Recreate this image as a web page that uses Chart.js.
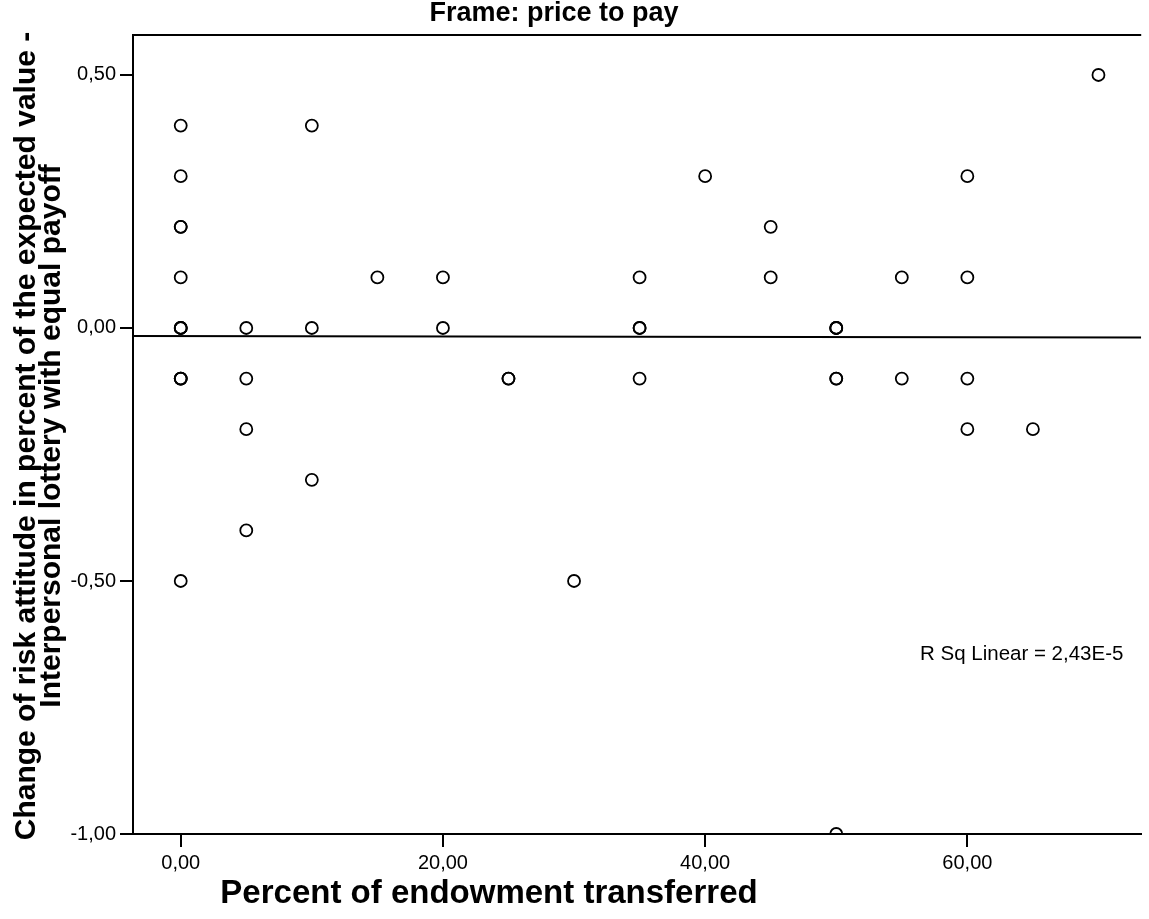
<!DOCTYPE html>
<html>
<head>
<meta charset="utf-8">
<script src="https://cdn.jsdelivr.net/npm/chart.js@4/dist/chart.umd.min.js"></script>
<style>
html,body{margin:0;padding:0;background:#fff;}
canvas{display:block;}
</style>
</head>
<body>
<canvas id="c" width="1149" height="919"></canvas>
<script>
// ---- data ----
const transferX = [0,0,0,0,0,0,0,0,0,0,0,0, 5,5,5,5, 10,10,10, 15, 20,20, 25,25, 30, 35,35,35,35, 40, 45,45, 50,50,50,50,50,50, 55,55, 60,60,60,60, 65, 70];
const riskY     = [0.4,0.3,0.2,0.2,0.1,0,0,0,-0.1,-0.1,-0.1,-0.5,
                   0,-0.1,-0.2,-0.4, 0.4,0,-0.3, 0.1, 0.1,0, -0.1,-0.1, -0.5, 0.1,0,0,-0.1, 0.3, 0.2,0.1, 0,0,0,-0.1,-0.1,-1.0, 0.1,-0.1, 0.3,0.1,-0.1,-0.2, -0.2, 0.5];
const fitX = [-3.64, 73.26];
const fitY = [-0.016, -0.019];
const xTicks = [0, 20, 40, 60];
const yTicks = [-1, -0.5, 0, 0.5];
const xRange = [-3.64, 73.26];
const yRange = [-1.0, 0.579];
const chartTitle = 'Frame: price to pay';
const xTitle = 'Percent of endowment transferred';
const yTitle = ['Change of risk attitude in percent of the expected value -', 'Interpersonal lottery with equal payoff'];
const rsqText = 'R Sq Linear = 2,43E-5';

const fmt = v => v.toFixed(2).replace('.', ',');
const FONT = '"Liberation Sans", Arial, sans-serif';

const textPlugin = {
  id: 'texts',
  afterDraw(chart) {
    const ctx = chart.ctx, a = chart.chartArea;
    ctx.save();
    ctx.strokeStyle = '#000';
    ctx.lineWidth = 2;
    ctx.beginPath();
    ctx.moveTo(a.left, a.top); ctx.lineTo(a.right, a.top);
    ctx.stroke();
    ctx.fillStyle = '#000';
    ctx.textBaseline = 'alphabetic';
    ctx.textAlign = 'center';
    ctx.font = 'bold 27px ' + FONT;
    ctx.fillText(chartTitle, 554, 21);
    ctx.font = 'bold 33px ' + FONT;
    ctx.fillText(xTitle, 489, 903);
    ctx.save();
    ctx.translate(0, 436);
    ctx.rotate(-Math.PI / 2);
    ctx.font = 'bold 30px ' + FONT;
    ctx.fillText(yTitle[0], 0, 35);
    ctx.fillText(yTitle[1], 0, 60);
    ctx.restore();
    ctx.font = '20.5px ' + FONT;
    ctx.textAlign = 'left';
    ctx.fillText(rsqText, 920, 660);
    ctx.restore();
  }
};

new Chart(document.getElementById('c'), {
  type: 'scatter',
  data: {
    datasets: [
      {
        data: transferX.map((x, i) => ({x, y: riskY[i]})),
        pointStyle: 'circle',
        pointRadius: 6,
        pointBorderWidth: 1.8,
        borderColor: '#000',
        backgroundColor: 'rgba(0,0,0,0)',
        pointHoverRadius: 6
      },
      {
        type: 'line',
        data: fitX.map((x, i) => ({x, y: fitY[i]})),
        borderColor: '#000',
        borderWidth: 2,
        pointRadius: 0,
        fill: false
      }
    ]
  },
  options: {
    responsive: false,
    animation: false,
    events: [],
    layout: { padding: { top: 35, right: 0, left: 0, bottom: 0 } },
    plugins: { legend: { display: false }, tooltip: { enabled: false }, title: { display: false } },
    scales: {
      x: {
        type: 'linear',
        min: xRange[0], max: xRange[1],
        afterBuildTicks: s => { s.ticks = xTicks.map(v => ({value: v})); },
        afterFit: s => { s.height = 85; },
        border: { display: true, color: '#000', width: 2 },
        grid: { drawOnChartArea: false, drawTicks: true, tickLength: 13, color: '#000', lineWidth: 2 },
        ticks: { color: '#000', font: { family: FONT, size: 20 }, padding: 4, maxRotation: 0, callback: v => fmt(v) }
      },
      y: {
        type: 'linear',
        min: yRange[0], max: yRange[1],
        afterBuildTicks: s => { s.ticks = yTicks.map(v => ({value: v})); },
        afterFit: s => { s.width = 133; },
        border: { display: true, color: '#000', width: 2 },
        grid: { drawOnChartArea: false, drawTicks: true, tickLength: 13, color: '#000', lineWidth: 2 },
        ticks: { color: '#000', font: { family: FONT, size: 20 }, padding: 4, callback: v => fmt(v) }
      }
    }
  },
  plugins: [textPlugin]
});
</script>
</body>
</html>
